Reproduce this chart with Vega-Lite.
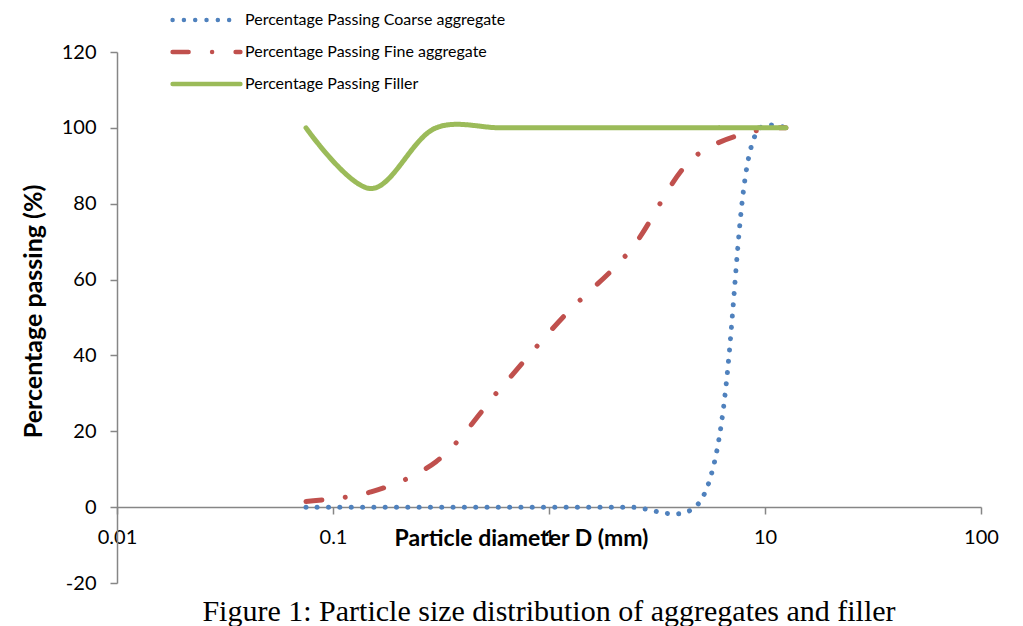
{
  "$schema": "https://vega.github.io/schema/vega-lite/v6.json",
  "width": 864,
  "height": 531,
  "autosize": "none",
  "padding": {"left": 117, "top": 52, "right": 42, "bottom": 43},
  "background": "white",
  "config": {
    "view": {"stroke": null},
    "font": "Lato",
    "legend": {
      "title": null,
      "orient": "none",
      "legendX": 53,
      "legendY": -48,
      "padding": 0,
      "symbolType": "M-1,0H1",
      "symbolSize": 4600,
      "symbolStrokeWidth": 4.5,
      "labelFontSize": 16,
      "labelLimit": 0,
      "labelColor": "black",
      "labelOffset": 2,
      "clipHeight": 32,
      "rowPadding": 0
    }
  },
  "title": {
    "text": "Figure 1: Particle size distribution of aggregates and filler",
    "orient": "bottom",
    "anchor": "middle",
    "font": "Liberation Serif",
    "fontSize": 30,
    "fontWeight": "normal",
    "color": "black",
    "offset": 4
  },
  "data": {
    "values": [
      {"series": "Percentage Passing Coarse aggregate", "d": 0.075, "p": 0},
      {"series": "Percentage Passing Coarse aggregate", "d": 0.15, "p": 0},
      {"series": "Percentage Passing Coarse aggregate", "d": 0.3, "p": 0},
      {"series": "Percentage Passing Coarse aggregate", "d": 0.6, "p": 0},
      {"series": "Percentage Passing Coarse aggregate", "d": 1.18, "p": 0},
      {"series": "Percentage Passing Coarse aggregate", "d": 2.36, "p": 0},
      {"series": "Percentage Passing Coarse aggregate", "d": 4.75, "p": 0},
      {"series": "Percentage Passing Coarse aggregate", "d": 9.5, "p": 100},
      {"series": "Percentage Passing Coarse aggregate", "d": 12.5, "p": 100},
      {"series": "Percentage Passing Fine aggregate", "d": 0.075, "p": 1.5},
      {"series": "Percentage Passing Fine aggregate", "d": 0.15, "p": 4},
      {"series": "Percentage Passing Fine aggregate", "d": 0.3, "p": 12},
      {"series": "Percentage Passing Fine aggregate", "d": 0.6, "p": 31.5},
      {"series": "Percentage Passing Fine aggregate", "d": 1.18, "p": 50.5},
      {"series": "Percentage Passing Fine aggregate", "d": 2.36, "p": 67.5},
      {"series": "Percentage Passing Fine aggregate", "d": 4.75, "p": 92.5},
      {"series": "Percentage Passing Fine aggregate", "d": 9.5, "p": 99.5},
      {"series": "Percentage Passing Fine aggregate", "d": 12.5, "p": 100},
      {"series": "Percentage Passing Filler", "d": 0.075, "p": 100},
      {"series": "Percentage Passing Filler", "d": 0.15, "p": 84},
      {"series": "Percentage Passing Filler", "d": 0.3, "p": 100},
      {"series": "Percentage Passing Filler", "d": 0.6, "p": 100},
      {"series": "Percentage Passing Filler", "d": 1.18, "p": 100},
      {"series": "Percentage Passing Filler", "d": 2.36, "p": 100},
      {"series": "Percentage Passing Filler", "d": 4.75, "p": 100},
      {"series": "Percentage Passing Filler", "d": 9.5, "p": 100},
      {"series": "Percentage Passing Filler", "d": 12.5, "p": 100}
    ]
  },
  "mark": {"type": "line", "interpolate": "catmull-rom", "strokeCap": "round", "strokeWidth": 5, "clip": false},
  "encoding": {
    "x": {
      "field": "d",
      "type": "quantitative",
      "scale": {"type": "log", "domain": [0.01, 100]},
      "axis": {
        "values": [0.01, 0.1, 1, 10, 100],
        "format": "~g",
        "offset": -76,
        "grid": false,
        "domainColor": "#868686",
        "domainWidth": 1.5,
        "tickColor": "#868686",
        "tickWidth": 1.5,
        "tickSize": 7,
        "labelFontSize": 20,
        "labelColor": "black",
        "labelPadding": 13,
        "labelFlush": false,
        "title": "Particle diameter D (mm)",
        "titleFontSize": 23,
        "titleFontWeight": "bold",
        "titleColor": "black",
        "titleX": 404,
        "titleY": 31,
        "titleAlign": "center",
        "titleBaseline": "middle"
      }
    },
    "y": {
      "field": "p",
      "type": "quantitative",
      "scale": {"domain": [-20, 120], "nice": false, "zero": false},
      "axis": {
        "values": [-20, 0, 20, 40, 60, 80, 100, 120],
        "labelExpr": "'' + datum.value",
        "grid": false,
        "domainColor": "#868686",
        "domainWidth": 1.5,
        "tickColor": "#868686",
        "tickWidth": 1.5,
        "tickSize": 7,
        "labelFontSize": 20,
        "labelColor": "black",
        "labelPadding": 14,
        "title": "Percentage passing (%)",
        "titleFontSize": 25,
        "titleFontWeight": "bold",
        "titleColor": "black",
        "titleX": -84,
        "titleY": 259,
        "titleAngle": 270,
        "titleAlign": "center",
        "titleBaseline": "middle"
      }
    },
    "color": {
      "field": "series",
      "type": "nominal",
      "sort": null,
      "scale": {
        "domain": ["Percentage Passing Coarse aggregate", "Percentage Passing Fine aggregate", "Percentage Passing Filler"],
        "range": ["#4F81BD", "#C0504D", "#9BBB59"]
      },
      "legend": {
        "encode": {"symbols": {"update": {"strokeCap": {"value": "round"}}}}
      }
    },
    "strokeDash": {
      "field": "series",
      "type": "nominal",
      "sort": null,
      "scale": {
        "domain": ["Percentage Passing Coarse aggregate", "Percentage Passing Fine aggregate", "Percentage Passing Filler"],
        "range": [[0.01, 11.3], [16, 23.5, 0.01, 23.5], [1, 0]]
      },
      "legend": {
        "encode": {"symbols": {"update": {"strokeCap": {"value": "round"}}}}
      }
    }
  }
}
